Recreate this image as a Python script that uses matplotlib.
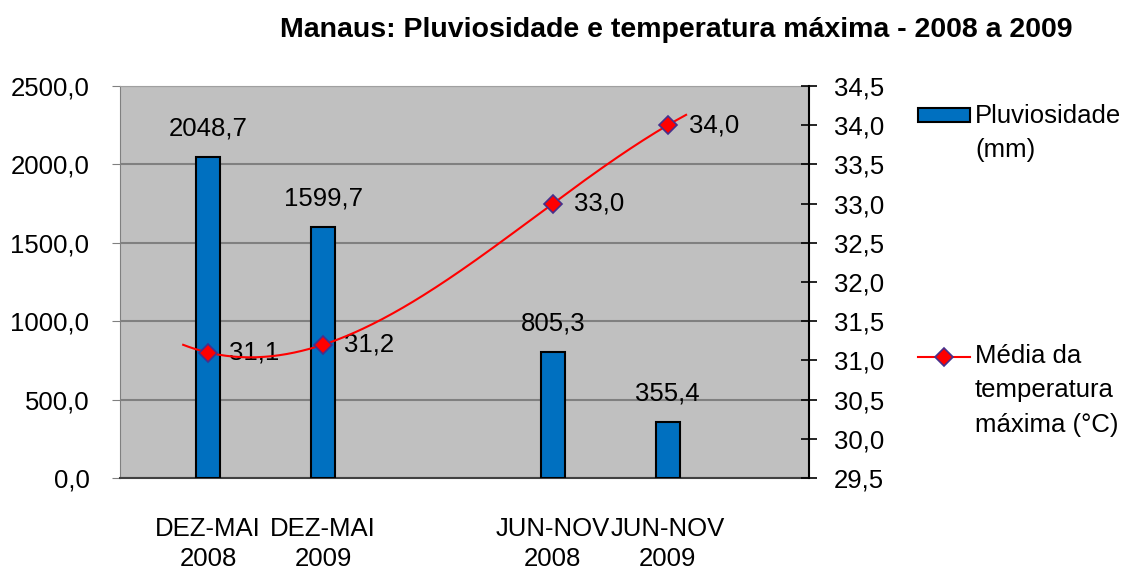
import numpy as np
import matplotlib.pyplot as plt
from matplotlib.ticker import FuncFormatter, MultipleLocator
from matplotlib.patches import Rectangle
from matplotlib.lines import Line2D

plt.rcParams['font.family'] = ['Liberation Sans', 'DejaVu Sans']

categories = ['DEZ-MAI\n2008', 'DEZ-MAI\n2009', 'JUN-NOV\n2008', 'JUN-NOV\n2009']
xpos = [0, 1, 3, 4]
chuva = [2048.7, 1599.7, 805.3, 355.4]
temp = [31.1, 31.2, 33.0, 34.0]

azul = '#0070C0'
fs = 18.5


def virgula(v, pos=None):
    return f'{v:.1f}'.replace('.', ',')


fig = plt.figure(figsize=(11.28, 5.71), dpi=100)
ax = fig.add_axes([120 / 1128, 1 - 478 / 571, 689 / 1128, 392 / 571])
ax.set_facecolor('#C0C0C0')

# barras de pluviosidade
ax.bar(xpos, chuva, width=0.21, color=azul, edgecolor='black', linewidth=1.5, zorder=3)
for x, v in zip(xpos, chuva):
    ax.annotate(virgula(v), (x, v), xytext=(0, 12), textcoords='offset points',
                ha='center', va='bottom', fontsize=fs)

ax.set_xlim(-0.768, 5.23)
ax.set_ylim(0, 2500)
ax.yaxis.set_major_locator(MultipleLocator(500))
ax.yaxis.set_major_formatter(FuncFormatter(virgula))
ax.grid(axis='y', color='#808080', linewidth=1.5, zorder=1)
ax.set_axisbelow(True)
ax.set_xticks(xpos)
ax.set_xticklabels(categories, fontsize=fs, linespacing=1.3)
ax.tick_params(axis='x', length=0, pad=28)
ax.tick_params(axis='y', labelsize=fs, color='#808080', length=6, pad=16)
ax.spines['left'].set_color('#808080')
ax.spines['top'].set_color('#A0A0A0')
ax.spines['bottom'].set_color('#404040')
ax.spines['bottom'].set_linewidth(1.5)
ax.spines['right'].set_visible(False)

# temperatura no eixo secundario
ax2 = ax.twinx()
ax2.set_ylim(29.5, 34.5)
ax2.yaxis.set_major_locator(MultipleLocator(0.5))
ax2.yaxis.set_major_formatter(FuncFormatter(virgula))
ax2.tick_params(axis='y', labelsize=fs, direction='inout', length=12, width=1.2, pad=12)
ax2.spines['right'].set_color('black')
ax2.spines['right'].set_linewidth(1.5)
for s in ['left', 'top', 'bottom']:
    ax2.spines[s].set_visible(False)

# linha de tendencia polinomial
coef = np.polyfit(xpos, temp, 3)
xs = np.linspace(-0.218, 4.16, 200)
ax2.plot(xs, np.polyval(coef, xs), color='red', linewidth=1.5, zorder=4)
ax2.plot(xpos, temp, linestyle='none', marker='D', markersize=9,
         markerfacecolor='red', markeredgecolor='#46308C', markeredgewidth=1.2, zorder=5)
for x, v in zip(xpos, temp):
    ax2.annotate(virgula(v), (x, v), xytext=(15, 0), textcoords='offset points',
                 ha='left', va='center', fontsize=fs)

fig.text(676 / 1128, 1 - 30 / 571, 'Manaus: Pluviosidade e temperatura máxima - 2008 a 2009',
         ha='center', va='center', fontsize=20.5, fontweight='bold')

# legenda
lax = fig.add_axes([0, 0, 1, 1])
lax.set_xlim(0, 1128)
lax.set_ylim(571, 0)
lax.axis('off')
lax.add_patch(Rectangle((918, 108), 52, 14, facecolor=azul, edgecolor='black', linewidth=1.5))
lax.text(975, 104, 'Pluviosidade\n(mm)', ha='left', va='top', fontsize=fs, linespacing=1.55)
lax.add_line(Line2D([918, 970], [357, 357], color='red', linewidth=1.5))
lax.plot([944], [357], marker='D', markersize=9, markerfacecolor='red',
         markeredgecolor='#46308C', markeredgewidth=1.2)
lax.text(975, 344, 'Média da\ntemperatura\nmáxima (°C)', ha='left', va='top', fontsize=fs,
         linespacing=1.55)

fig.savefig('out.png', dpi=100)
